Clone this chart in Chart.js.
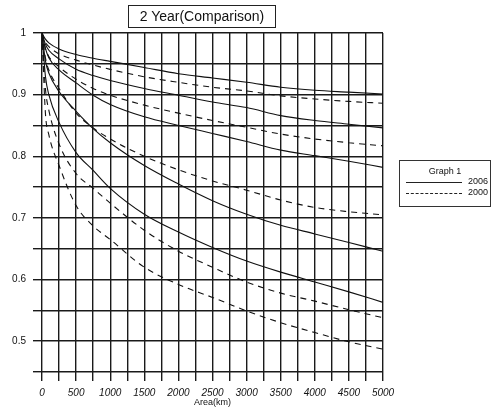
<!DOCTYPE html>
<html>
<head>
<meta charset="utf-8">
<script src="https://cdn.jsdelivr.net/npm/chart.js@4.4.0/dist/chart.umd.min.js"></script>
<style>
  body { margin: 0; background: #fff; }
  #wrap { position: relative; width: 494px; height: 408px; font-family: "Liberation Sans", Arial, sans-serif; color: #111; }
  #chartTitle { position: absolute; left: 128px; top: 5px; width: 146px; height: 21px; border: 1px solid #222; text-align: center; font-size: 14px; line-height: 21px; }
  #legendBox { position: absolute; left: 399px; top: 160px; width: 90px; height: 45px; border: 1px solid #333; font-size: 9px; }
  #legendBox .head { text-align: center; margin-top: 5px; }
  #legendBox .row { position: relative; height: 11px; }
  #legendBox .sample { position: absolute; left: 6px; top: 6px; width: 56px; border-top: 1px solid #222; }
  #legendBox .sample.dash { border-top: 1px dashed #222; }
  #legendBox .lbl { position: absolute; left: 68px; top: 0; }
</style>
</head>
<body>
<div id="wrap">
  <canvas id="arfChart" width="494" height="408"></canvas>
  <div id="chartTitle">2 Year(Comparison)</div>
  <div id="legendBox">
    <div class="head">Graph 1</div>
    <div class="row"><div class="sample"></div><span class="lbl">2006</span></div>
    <div class="row"><div class="sample dash"></div><span class="lbl">2000</span></div>
  </div>
</div>
<script>
// ---------- Data ----------
const AREA_KM = [0, 50, 100, 250, 500, 750, 1000, 1500, 2000, 2500, 3000, 3500, 4000, 4500, 5000];

// 2006 curves (solid)
const S2006_A = [1, 0.990, 0.984, 0.974, 0.965, 0.959, 0.954, 0.944, 0.934, 0.927, 0.920, 0.912, 0.907, 0.904, 0.901];
const S2006_B = [1, 0.982, 0.972, 0.958, 0.941, 0.931, 0.923, 0.910, 0.899, 0.888, 0.879, 0.866, 0.858, 0.852, 0.846];
const S2006_C = [1, 0.975, 0.960, 0.940, 0.919, 0.899, 0.884, 0.864, 0.850, 0.837, 0.824, 0.810, 0.801, 0.792, 0.782];
const S2006_D = [1, 0.955, 0.935, 0.905, 0.873, 0.845, 0.822, 0.785, 0.755, 0.728, 0.706, 0.688, 0.674, 0.660, 0.646];
const S2006_E = [1, 0.930, 0.900, 0.855, 0.806, 0.777, 0.748, 0.706, 0.677, 0.652, 0.630, 0.612, 0.596, 0.580, 0.563];

// 2000 curves (dashed)
const S2000_A = [1, 0.985, 0.978, 0.966, 0.956, 0.948, 0.941, 0.929, 0.920, 0.912, 0.906, 0.898, 0.893, 0.889, 0.886];
const S2000_B = [1, 0.975, 0.962, 0.945, 0.925, 0.910, 0.899, 0.883, 0.870, 0.858, 0.847, 0.836, 0.828, 0.822, 0.817];
const S2000_C = [1, 0.960, 0.940, 0.910, 0.870, 0.846, 0.828, 0.800, 0.778, 0.760, 0.745, 0.729, 0.717, 0.710, 0.705];
const S2000_D = [1, 0.910, 0.875, 0.820, 0.772, 0.748, 0.724, 0.680, 0.646, 0.620, 0.596, 0.578, 0.565, 0.551, 0.538];
const S2000_E = [1, 0.870, 0.835, 0.785, 0.720, 0.687, 0.665, 0.620, 0.592, 0.571, 0.549, 0.530, 0.514, 0.499, 0.487];

// ---------- Tick labels ----------
const X_TICK_LABELS = ['0', '500', '1000', '1500', '2000', '2500', '3000', '3500', '4000', '4500', '5000'];
const Y_TICK_LABELS = ['0.5', '0.6', '0.7', '0.8', '0.9', '1'];

function toPoints(ys) {
    return ys.map((y, i) => ({ x: AREA_KM[i], y: y }));
}

function makeSet(label, ys, dashed) {
    return {
        label: label,
        data: toPoints(ys),
        borderColor: '#111',
        borderWidth: 1.1,
        borderDash: dashed ? [6, 5] : [],
        pointRadius: 0,
        fill: false,
        cubicInterpolationMode: 'monotone'
    };
}

const datasets = [
    makeSet('2006', S2006_A, false),
    makeSet('2006', S2006_B, false),
    makeSet('2006', S2006_C, false),
    makeSet('2006', S2006_D, false),
    makeSet('2006', S2006_E, false),
    makeSet('2000', S2000_A, true),
    makeSet('2000', S2000_B, true),
    makeSet('2000', S2000_C, true),
    makeSet('2000', S2000_D, true),
    makeSet('2000', S2000_E, true)
];

const gridStyle = { color: '#1a1a1a', lineWidth: 1.4, tickLength: 9, drawTicks: true };

new Chart(document.getElementById('arfChart'), {
    type: 'line',
    data: { datasets: datasets },
    options: {
        responsive: false,
        animation: false,
        layout: { padding: { top: 33, right: 111, left: 0, bottom: 0 } },
        plugins: { legend: { display: false }, tooltip: { enabled: false } },
        scales: {
            x: {
                type: 'linear',
                min: 0,
                max: 5000,
                border: { display: false },
                grid: gridStyle,
                ticks: {
                    stepSize: 250,
                    autoSkip: false,
                    maxRotation: 0,
                    padding: 6,
                    color: '#111',
                    font: { family: '"Liberation Sans", Arial, sans-serif', size: 10, style: 'italic' },
                    callback: v => {
                        const idx = X_TICK_LABELS.indexOf(String(Math.round(v)));
                        return idx >= 0 ? X_TICK_LABELS[idx] : '';
                    }
                },
                title: {
                    display: true,
                    text: 'Area(km)',
                    color: '#111',
                    padding: { top: -6, bottom: 0 },
                    font: { family: '"Liberation Sans", Arial, sans-serif', size: 9 }
                },
                afterFit: s => { s.height = 36; }
            },
            y: {
                min: 0.45,
                max: 1,
                border: { display: false },
                grid: gridStyle,
                ticks: {
                    stepSize: 0.05,
                    autoSkip: false,
                    padding: 7,
                    color: '#111',
                    font: { family: '"Liberation Sans", Arial, sans-serif', size: 10 },
                    callback: v => {
                        const r = Math.round(v * 100);
                        if (r % 10 !== 0) return '';
                        const idx = Y_TICK_LABELS.indexOf(String(r / 100));
                        return idx >= 0 ? Y_TICK_LABELS[idx] : '';
                    }
                },
                afterFit: s => { s.width = 42; }
            }
        }
    }
});
</script>
</body>
</html>
